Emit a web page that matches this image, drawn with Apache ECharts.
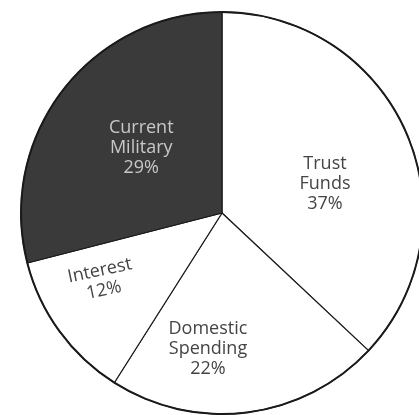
<!DOCTYPE html>
<html>
<head>
<meta charset="utf-8">
<script src="https://cdn.jsdelivr.net/npm/echarts@6/dist/echarts.min.js"></script>
<style>
html,body{margin:0;padding:0;background:#fff;}
#chart{width:419px;height:415px;}
</style>
</head>
<body>
<div id="chart"></div>
<script>
var categories = ['Trust\nFunds', 'Domestic\nSpending', 'Interest', 'Current\nMilitary'];
var values = [37, 22, 12, 29];
var fills = ['#ffffff', '#ffffff', '#ffffff', '#3a3a3a'];
var labelColors = ['#444444', '#444444', '#444444', '#c8c8c8'];
var labelOffsets = [[8, 12], [-27, 33], [-37, -1], [1, -2]];
var labelRotations = [0, 0, 12, 0];

var chart = echarts.init(document.getElementById('chart'));
var data = categories.map(function (c, i) {
  return {
    name: c,
    value: values[i],
    itemStyle: { color: fills[i] },
    label: { color: labelColors[i], offset: labelOffsets[i], rotate: labelRotations[i] }
  };
});
chart.setOption({
  backgroundColor: '#ffffff',
  animation: false,
  series: [{
    type: 'pie',
    center: [222, 213],
    radius: [0, 201],
    startAngle: 90,
    clockwise: true,
    avoidLabelOverlap: false,
    itemStyle: { borderColor: '#1a1a1a', borderWidth: 1.2 },
    label: {
      show: true,
      position: 'inside',
      fontFamily: 'Open Sans',
      fontSize: 18,
      lineHeight: 20,
      align: 'center',
      formatter: function (p) { return p.name + '\n' + p.value + '%'; }
    },
    labelLine: { show: false },
    emphasis: { disabled: true },
    data: data
  }, {
    type: 'pie',
    center: [222, 213],
    radius: [200, 202],
    startAngle: 90,
    silent: true,
    label: { show: false },
    labelLine: { show: false },
    itemStyle: { color: '#1a1a1a', borderWidth: 0 },
    data: values.map(function (v, i) { return { name: categories[i], value: v }; })
  }]
});
</script>
</body>
</html>
